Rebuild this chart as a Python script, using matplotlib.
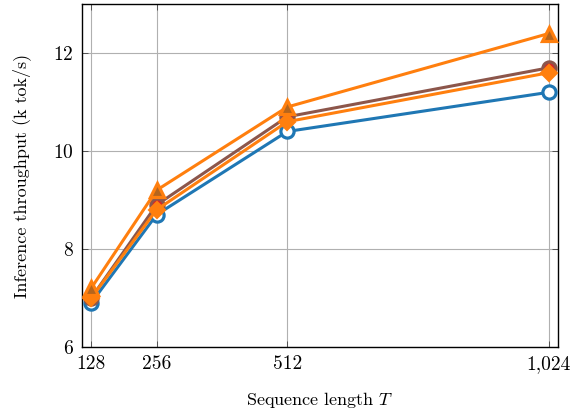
import matplotlib
matplotlib.use("Agg")
import matplotlib.pyplot as plt

seq_len = [128, 256, 512, 1024]
xtick_labels = ["128", "256", "512", "1,024"]
blue_vals = [6.9, 8.7, 10.4, 11.2]
brown_vals = [7.0, 8.9, 10.7, 11.7]
diamond_vals = [7.0, 8.8, 10.6, 11.6]
triangle_vals = [7.2, 9.2, 10.9, 12.4]
yticks = [6, 8, 10, 12]

plt.rcParams['font.family'] = 'serif'
plt.rcParams['font.serif'] = ['cmr10', 'DejaVu Serif']
plt.rcParams['mathtext.fontset'] = 'cm'
plt.rcParams['axes.formatter.use_mathtext'] = True

fig = plt.figure(figsize=(5.8, 4.15), dpi=100)
ax = fig.add_axes([0.1414, 0.164, 0.8206, 0.826])

lw = 2.2
ax.plot(seq_len, blue_vals, color='#1f77b4', lw=lw, marker='o', ms=9.5,
        mfc='white', mec='#1f77b4', mew=2.3, zorder=3)
ax.plot(seq_len, brown_vals, color='#8c564b', lw=lw, marker='o', ms=9.5,
        mfc='#d62728', mec='#8c564b', mew=2.3, zorder=4)
ax.plot(seq_len, diamond_vals, color='#ff7f0e', lw=lw, marker='D', ms=8,
        mfc='#ff7f0e', mec='#ff7f0e', mew=1.5, zorder=5)
ax.plot(seq_len, triangle_vals, color='#ff7f0e', lw=lw, marker='^', ms=9.5,
        mfc='#b5651d', mec='#ff7f0e', mew=2.3, zorder=6)

ax.set_xlim(110, 1042)
ax.set_ylim(6, 13)
ax.set_xticks(seq_len)
ax.set_xticklabels(xtick_labels)
ax.set_yticks(yticks)
ax.grid(True, color='#b0b0b0', lw=0.8)
ax.set_axisbelow(True)
ax.tick_params(direction='in', top=True, right=True, length=4, width=0.6,
               labelsize=14, color='#444444', pad=6)
for s in ax.spines.values():
    s.set_linewidth(1.0)
ax.set_xlabel("Sequence length $T$", fontsize=13)
ax.set_ylabel("Inference throughput (k tok/s)", fontsize=13)
ax.xaxis.set_label_coords(0.5, -0.125)
ax.yaxis.set_label_coords(-0.108, 0.5)

fig.savefig("out.png", dpi=100)
